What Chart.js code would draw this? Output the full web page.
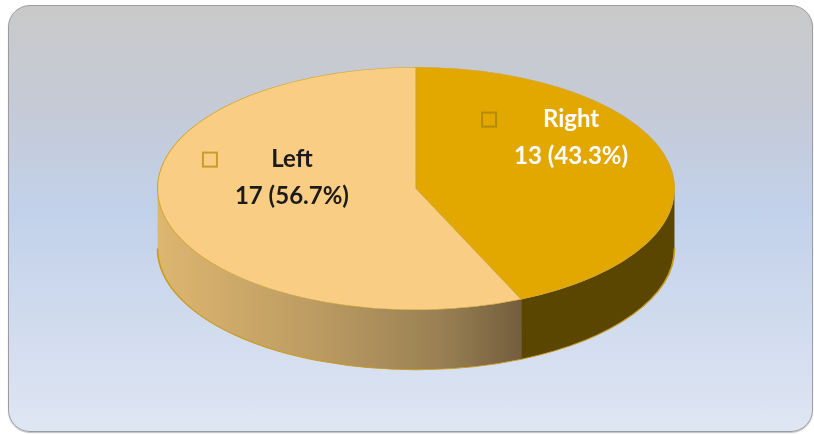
<!DOCTYPE html>
<html>
<head>
<meta charset="utf-8">
<script src="https://cdn.jsdelivr.net/npm/chart.js@4.4.0/dist/chart.umd.min.js"></script>
<style>
  html, body { margin: 0; padding: 0; background: #ffffff; }
  #wrap { position: relative; width: 814px; height: 435px; overflow: hidden; }
  #bg {
    position: absolute; left: 8px; top: 5px; width: 803px; height: 425px;
    border: 1.5px solid #9c9c9c; border-radius: 22px;
    background: linear-gradient(to bottom, #c9c9c9 0%, #c5cad5 22%, #c2d1ea 48%, #cfdaee 72%, #dfe6f3 100%);
    box-shadow: 0 1px 1px rgba(0,0,0,0.25);
  }
  canvas { position: absolute; left: 0; top: 0; }
</style>
</head>
<body>
<div id="wrap">
  <div id="bg"></div>
  <canvas id="c" width="814" height="435"></canvas>
</div>
<script>
// ---- data ----
const categories = ['Right', 'Left'];
const counts = [13, 17];
const valueLabels = ['13 (43.3%)', '17 (56.7%)'];

// ---- style ----
const topColors = ['#E2A800', '#F9CD83'];
const textColors = ['#ffffff', '#1b1b1b'];
const keyBorders = ['#b58c00', '#c99c2c'];
const depth = 60;          // thickness of the 3D pie side
const stretch = 259 / 121.5; // horizontal stretch (ellipse rx / ry)
// label anchor, as fractions of the ellipse radii from the centre
const labelAnchors = [[0.60, -0.42], [-0.48, -0.09]];

const pie3d = {
  id: 'pie3d',
  beforeDatasetsDraw(chart) {
    const ctx = chart.ctx;
    const meta = chart.getDatasetMeta(0);
    const first = meta.data[0].getProps(['x', 'y', 'outerRadius'], true);
    const cx = first.x, cy = first.y, r = first.outerRadius;
    ctx.save();
    ctx.translate(cx, cy);
    ctx.scale(stretch, 1);
    ctx.translate(-cx, -cy);
    meta.data.forEach((arc, i) => {
      const p = arc.getProps(['startAngle', 'endAngle'], true);
      const a = Math.max(p.startAngle, 0);
      const b = Math.min(p.endAngle, Math.PI);
      if (b <= a) return;
      let fill;
      if (i === 0) {
        fill = '#5b4600';
      } else {
        const g = ctx.createLinearGradient(cx - r, 0, cx + r, 0);
        g.addColorStop(0, '#ddb670');
        g.addColorStop(0.3, '#bd9c62');
        g.addColorStop(0.55, '#998053');
        g.addColorStop(0.74, '#6a5538');
        g.addColorStop(1, '#5b4600');
        fill = g;
      }
      ctx.beginPath();
      ctx.arc(cx, cy, r, a, b, false);
      ctx.arc(cx, cy + depth, r, b, a, true);
      ctx.closePath();
      ctx.fillStyle = fill;
      ctx.fill();
      ctx.beginPath();
      ctx.arc(cx, cy + depth, r, a, b, false);
      ctx.lineWidth = 0.8;
      ctx.strokeStyle = '#c99a1c';
      ctx.stroke();
    });
  },
  afterDatasetsDraw(chart) {
    const ctx = chart.ctx;
    ctx.restore();
    const meta = chart.getDatasetMeta(0);
    const first = meta.data[0].getProps(['x', 'y', 'outerRadius'], true);
    const cx = first.x, cy = first.y, r = first.outerRadius;
    const rx = r * stretch, ry = r;
    ctx.save();
    ctx.font = 'bold 24px Lato, "Open Sans", sans-serif';
    ctx.textAlign = 'center';
    ctx.textBaseline = 'middle';
    meta.data.forEach((arc, i) => {
      const tx = cx + labelAnchors[i][0] * rx;
      const ty = cy + labelAnchors[i][1] * ry;
      const l1 = ty - 18, l2 = ty + 19;
      ctx.fillStyle = textColors[i];
      ctx.fillText(categories[i], tx, l1);
      ctx.fillText(valueLabels[i], tx, l2);
      ctx.fillStyle = topColors[i];
      ctx.fillRect(tx - 89, l1 - 7, 14, 14);
      ctx.lineWidth = 2;
      ctx.strokeStyle = keyBorders[i];
      ctx.strokeRect(tx - 89, l1 - 7, 14, 14);
    });
    ctx.restore();
  }
};

new Chart(document.getElementById('c'), {
  type: 'pie',
  data: {
    labels: categories,
    datasets: [{
      data: counts,
      backgroundColor: topColors,
      borderColor: '#d3a52a',
      borderWidth: 0.5,
      clip: false
    }]
  },
  options: {
    responsive: false,
    animation: false,
    devicePixelRatio: 1,
    layout: { padding: { left: 157, right: 139, top: 67, bottom: 125 } },
    plugins: { legend: { display: false }, tooltip: { enabled: false } }
  },
  plugins: [pie3d]
});
</script>
</body>
</html>
